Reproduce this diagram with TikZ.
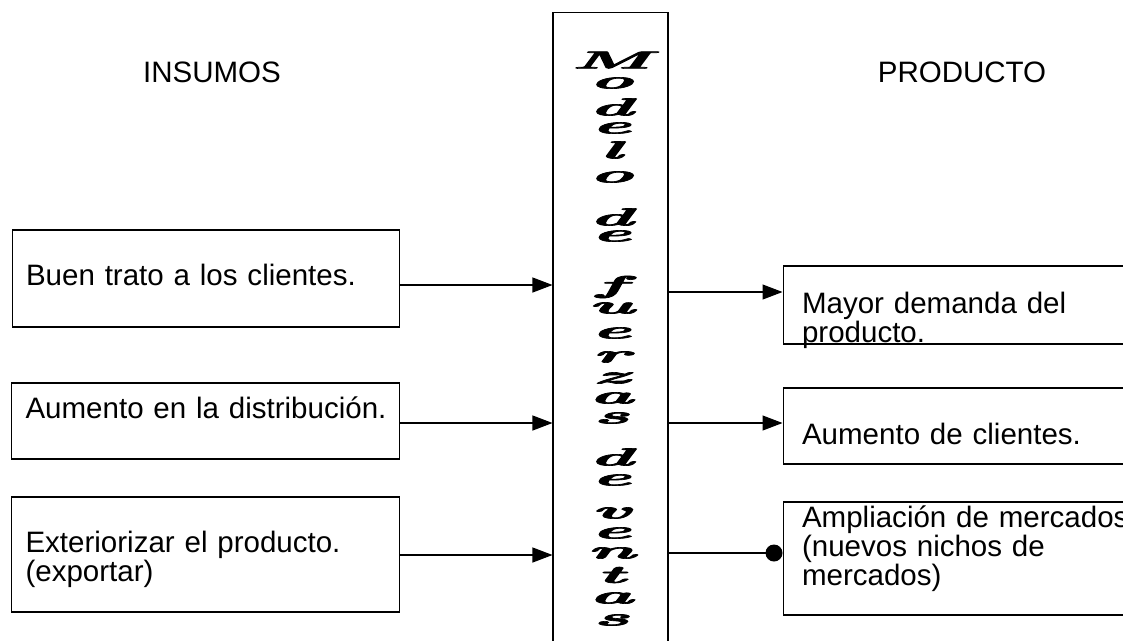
\documentclass[tikz,border=0pt]{standalone}
\usepackage{fontspec}
\usepackage{tikz}
\usetikzlibrary{arrows.meta, positioning}
\newfontfamily\arialfont{Liberation Sans}
\newfontfamily\brushfont{lmroman10-bolditalic.otf}[FakeBold=2.5]

\begin{document}
\begin{tikzpicture}[x=0.02cm, y=-0.02cm, line width=0.6pt,
  every node/.style={font=\arialfont\fontsize{16.8}{16.6}\selectfont},
  caja/.style={draw, rectangle, inner ysep=0pt, align=left},
  cajain/.style={caja, minimum width=7.76cm, inner xsep=0.28cm, text width=7.2cm},
  cajaout/.style={caja, minimum width=7.54cm, inner xsep=0.38cm, text width=6.78cm},
  letra/.style={font=\brushfont\fontsize{14}{14}\selectfont, xscale=3, inner sep=0pt},
  flecha/.style={-{Triangle[length=0.4cm, width=0.3cm]}},
  punto/.style={-{Circle[length=0.34cm]}}]
\useasboundingbox (0,0) rectangle (1123,640);
\clip (0,0) rectangle (1123,640);
% Titles
\node (insumos) at (212,72) {INSUMOS};
\node (producto) at (962,72) {PRODUCTO};
% Central bar
\node[draw, minimum width=2.3cm, minimum height=12.96cm, inner sep=0pt] (modelo) at (610.5,336) {};
\foreach \ch/\yy [count=\i] in {M/60, o/83, d/107, e/128, l/150, o/177, d/217, e/236,
    f/287, u/308, e/333, r/357, z/378, a/398, s/418, d/457, e/480,
    v/513, e/533, n/553, t/575, a/598, s/620}
  \node[letra] (l\i) at (611,\yy) {\ch};
% Inputs
\node[cajain, minimum height=1.94cm, text height=0.26cm, text depth=0pt] (in1) at (206,278.5) {Buen trato a los clientes.};
\node[cajain, minimum height=1.52cm, text height=0pt, text depth=0.12cm] (in2) at (205.5,421) {\mbox{Aumento en la distribución.}};
\node[cajain, minimum height=2.3cm, text height=0pt, text depth=0.1cm] (in3) at (205.5,554.5) {Exteriorizar el producto.\\(exportar)};
% Outputs
\node[cajaout, minimum height=1.56cm, text height=0.32cm, text depth=0pt] (out1) at (971.5,305) {Mayor demanda del\\producto.};
\node[cajaout, minimum height=1.52cm, text height=0.72cm, text depth=0pt] (out2) at (971.5,426) {Aumento de clientes.};
\node[cajaout, minimum height=2.26cm, text height=0pt, text depth=1.26cm] (out3) at (971.5,558.5) {\mbox{Ampliación de mercados}\\(nuevos nichos de\\mercados)};
% Arrows
\coordinate (e1) at ([yshift=-0.13cm]in1.east);
\coordinate (e2) at ([yshift=-0.04cm]in2.east);
\coordinate (e3) at ([yshift=-0.01cm]in3.east);
\coordinate (s1) at ([yshift=0.26cm]out1.west);
\coordinate (s2) at ([yshift=0.06cm]out2.west);
\coordinate (s3) at ([yshift=0.11cm]out3.west);
\draw[flecha] (e1) -- (e1 -| modelo.west);
\draw[flecha] (e2) -- (e2 -| modelo.west);
\draw[flecha] (e3) -- (e3 -| modelo.west);
\draw[flecha] (modelo.east |- s1) -- (s1);
\draw[flecha] (modelo.east |- s2) -- (s2);
\draw[punto] (modelo.east |- s3) -- (s3);
\end{tikzpicture}
\end{document}
